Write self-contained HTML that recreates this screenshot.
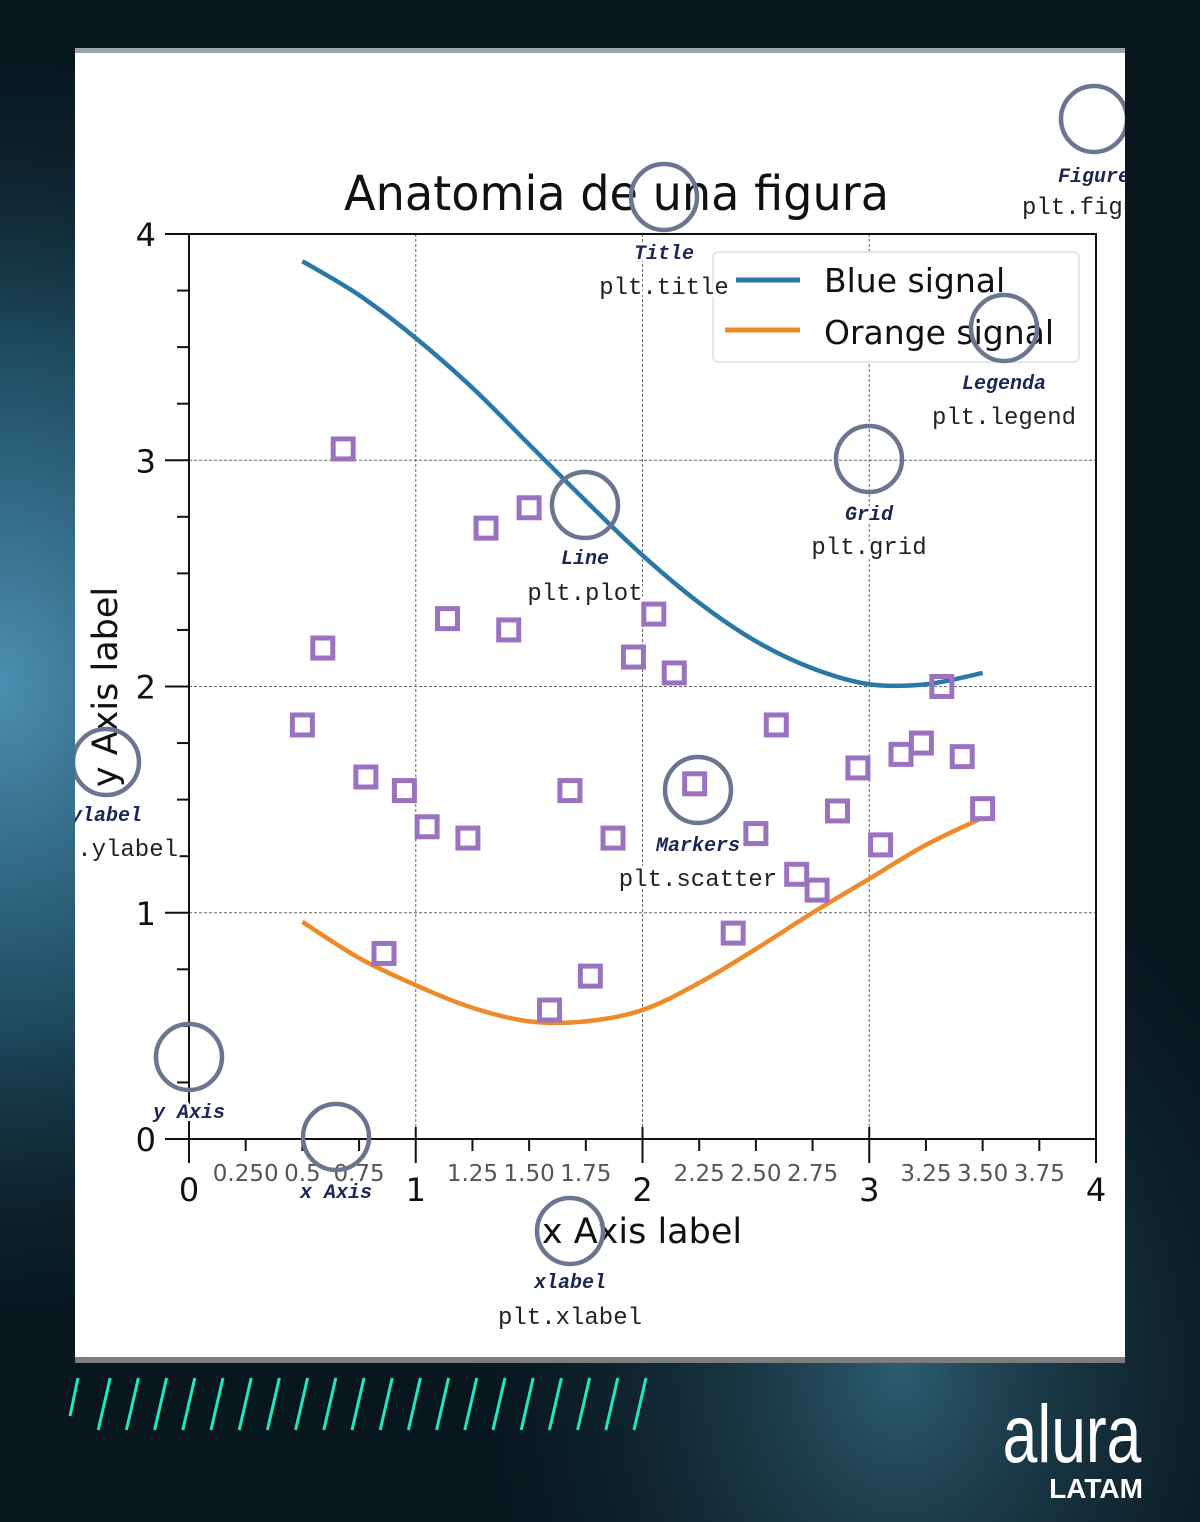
<!DOCTYPE html>
<html><head><meta charset="utf-8"><style>
html,body{margin:0;padding:0;width:1200px;height:1522px;overflow:hidden;background:#0a1a22}
svg{display:block}
.ann{font-family:"Liberation Mono",monospace;font-weight:bold;font-style:italic;font-size:20px;fill:#1c2654;text-anchor:middle;paint-order:stroke;stroke:#fff;stroke-width:6px;stroke-linejoin:round}
.code{font-family:"Liberation Mono","DejaVu Sans Mono",monospace;font-size:24px;fill:#222;text-anchor:middle;paint-order:stroke;stroke:#fff;stroke-width:6px;stroke-linejoin:round}
.maj{font-family:"DejaVu Sans",sans-serif;font-size:32px;fill:#111}
.minl{font-family:"DejaVu Sans",sans-serif;font-size:23px;fill:#555;text-anchor:middle}
</style></head><body>
<svg id="svg" width="1200" height="1522" viewBox="0 0 1200 1522" xmlns="http://www.w3.org/2000/svg">
<defs>
<radialGradient id="g1" cx="0" cy="0.45" r="0.45"><stop offset="0" stop-color="#4b8fb0"/><stop offset="0.5" stop-color="#1e4a60"/><stop offset="1" stop-color="#0a1a22" stop-opacity="0"/></radialGradient>
<radialGradient id="g2" cx="0.75" cy="0.9" r="0.4"><stop offset="0" stop-color="#2d5c72"/><stop offset="1" stop-color="#0a1a22" stop-opacity="0"/></radialGradient>
<clipPath id="card"><rect x="75" y="48" width="1050" height="1314"/></clipPath>
</defs>
<rect width="1200" height="1522" fill="#08161d"/>
<rect width="1200" height="1522" fill="url(#g1)"/>
<rect width="1200" height="1522" fill="url(#g2)"/>
<rect x="75" y="48" width="1050" height="1314" fill="#fff"/>
<rect x="75" y="48" width="1050" height="5" fill="#9aa3ad"/>
<rect x="75" y="1357" width="1050" height="6" fill="#7d7d7d"/>
<g id="stripes"></g>
<text x="1072" y="1462" fill="#fff" font-family="'Liberation Sans',sans-serif" font-size="78" text-anchor="middle" transform="translate(1072 1462) scale(0.8 1.05) translate(-1072 -1462)">alura</text>
<text x="1096" y="1498" fill="#fff" font-family="'Liberation Sans',sans-serif" font-weight="bold" font-size="28" text-anchor="middle">LATAM</text>
<g id="plot" clip-path="url(#card)"></g>
</svg>
<script>
const xTicksMajor=[0,1,2,3,4];
const xTicksMinorLabels=["0.250","0.5","0.75","1.25","1.50","1.75","2.25","2.50","2.75","3.25","3.50","3.75"];
const xTicksMinor=[0.25,0.5,0.75,1.25,1.5,1.75,2.25,2.5,2.75,3.25,3.5,3.75];
const yTicksMajor=[0,1,2,3,4];
const lineX=[0.5,0.75,1,1.25,1.5,1.75,2,2.25,2.5,2.75,3,3.25,3.5];
const blueY=[3.88,3.73,3.54,3.32,3.07,2.82,2.58,2.37,2.20,2.08,2.01,2.01,2.06];
const orangeY=[0.96,0.80,0.68,0.58,0.52,0.52,0.57,0.69,0.84,1.00,1.15,1.30,1.42];
const scatterX=[0.68,0.59,0.50,0.78,0.95,1.05,1.23,0.86,1.14,1.31,1.41,1.50,1.59,1.68,1.77,1.87,1.96,2.05,2.14,2.23,2.40,2.50,2.59,2.68,2.77,2.86,2.95,3.05,3.14,3.23,3.32,3.41,3.50];
const scatterY=[3.05,2.17,1.83,1.60,1.54,1.38,1.33,0.82,2.30,2.70,2.25,2.79,0.57,1.54,0.72,1.33,2.13,2.32,2.06,1.57,0.91,1.35,1.83,1.17,1.10,1.45,1.64,1.30,1.70,1.75,2.00,1.69,1.46];
const NS="http://www.w3.org/2000/svg";
const X=v=>189+v*226.75, Y=v=>1139-v*226.25;
const plot=document.getElementById('plot');
function mk(tag,at,parent){const e=document.createElementNS(NS,tag);for(const k in at)e.setAttribute(k,at[k]);(parent||plot).appendChild(e);return e;}
const st=document.getElementById('stripes');
for(let i=0;i<21;i++){const x0=70+i*28.2;const l=mk('line',{x1:x0,y1:i==0?1416:1430,x2:x0+(i==0?8:12),y2:1378,stroke:'#1de9c0','stroke-width':3},st);

}
[1,2,3].forEach(v=>{const g=mk('line',{x1:X(v),y1:Y(4),x2:X(v),y2:Y(0),stroke:'#666','stroke-width':1,'stroke-dasharray':'3,2'});


const h=mk('line',{x1:X(0),y1:Y(v),x2:X(4),y2:Y(v),stroke:'#666','stroke-width':1,'stroke-dasharray':'3,2'});

});
const ax=mk('path',{d:`M${X(0)} ${Y(0)}V${Y(4)}H${X(4)}V${Y(0)}H${X(0)-24}`,fill:'none',stroke:'#111','stroke-width':2});


for(let k=0;k<=16;k++){const v=k/4;const maj=k%4==0;mk('line',{x1:X(0)-(maj?24:12),y1:Y(v),x2:X(0),y2:Y(v),stroke:'#111','stroke-width':2});}
yTicksMajor.forEach(v=>{const t=mk('text',{x:156,y:Y(v)+12,class:'maj','text-anchor':'end'});t.textContent=v;

});
xTicksMajor.forEach(v=>{mk('line',{x1:X(v),y1:Y(0)-12,x2:X(v),y2:Y(0)+24,stroke:'#111','stroke-width':2});
const t=mk('text',{x:X(v),y:1201,class:'maj','text-anchor':'middle'});t.textContent=v;

});
xTicksMinor.forEach((v,i)=>{mk('line',{x1:X(v),y1:Y(0),x2:X(v),y2:Y(0)+12,stroke:'#111','stroke-width':2});
const t=mk('text',{x:X(v),y:1181,class:'minl'});t.textContent=xTicksMinorLabels[i];

});
function smooth(xs,ys){const p=xs.map((x,i)=>[X(x),Y(ys[i])]);let d=`M${p[0][0]} ${p[0][1]}`;
for(let i=0;i<p.length-1;i++){const p0=p[Math.max(0,i-1)],p1=p[i],p2=p[i+1],p3=p[Math.min(p.length-1,i+2)];
d+=`C${p1[0]+(p2[0]-p0[0])/6} ${p1[1]+(p2[1]-p0[1])/6} ${p2[0]-(p3[0]-p1[0])/6} ${p2[1]-(p3[1]-p1[1])/6} ${p2[0]} ${p2[1]}`;}return d;}
const bl=mk('path',{d:smooth(lineX,blueY),fill:'none',stroke:'#2a77a8','stroke-width':4.5});


const ol=mk('path',{d:smooth(lineX,orangeY),fill:'none',stroke:'#ee8a2a','stroke-width':4.5});


scatterX.forEach((x,i)=>{const m=mk('rect',{x:X(x)-10,y:Y(scatterY[i])-10,width:20,height:20,fill:'none',stroke:'#9b72c0','stroke-width':5});

});
const ti=mk('text',{x:344,y:210,'font-family':'"DejaVu Sans",sans-serif','font-size':48,fill:'#111',textLength:545,lengthAdjust:'spacingAndGlyphs'});ti.textContent='Anatomia de una figura';


const xl=mk('text',{x:642,y:1243,'font-family':'"DejaVu Sans",sans-serif','font-size':35,fill:'#111','text-anchor':'middle'});xl.textContent='x Axis label';


const yl=mk('text',{x:0,y:0,'font-family':'"DejaVu Sans",sans-serif','font-size':35,fill:'#111','text-anchor':'middle',transform:'translate(117 687) rotate(-90)'});yl.textContent='y Axis label';


const lg=mk('g',{});


mk('rect',{x:713,y:252,width:366,height:110,rx:5,fill:'#fff',stroke:'#ddd','stroke-width':1.5},lg);
mk('line',{x1:736,y1:280,x2:800,y2:280,stroke:'#2a77a8','stroke-width':5},lg);
mk('line',{x1:725,y1:330,x2:800,y2:330,stroke:'#ee8a2a','stroke-width':5},lg);
const l1=mk('text',{x:824,y:292,'font-family':'"DejaVu Sans",sans-serif','font-size':33,fill:'#111'},lg);l1.textContent='Blue signal';


const l2=mk('text',{x:824,y:344,'font-family':'"DejaVu Sans",sans-serif','font-size':33,fill:'#111'},lg);l2.textContent='Orange signal';


const anns=[[1094,119,'Figure','plt.figure',182,214],[664,197,'Title','plt.title',259,294],[1004,328,'Legenda','plt.legend',389,424],[869,459,'Grid','plt.grid',520,554],[585,505,'Line','plt.plot',564,600],[698,790,'Markers','plt.scatter',851,886],[106,762,'ylabel','plt.ylabel',821,856],[189,1057,'y Axis','',1118,0],[336,1137,'x Axis','',1198,0],[570,1231,'xlabel','plt.xlabel',1288,1324]];
anns.forEach(a=>{const c=mk('circle',{cx:a[0],cy:a[1],r:33,fill:'none',stroke:'#6b7590','stroke-width':4.5});


const t=mk('text',{x:a[0],y:a[4],class:'ann'});t.textContent=a[2];


if(a[3]){const t2=mk('text',{x:a[0],y:a[5],class:'code'});t2.textContent=a[3];

}});
</script>
</body></html>
